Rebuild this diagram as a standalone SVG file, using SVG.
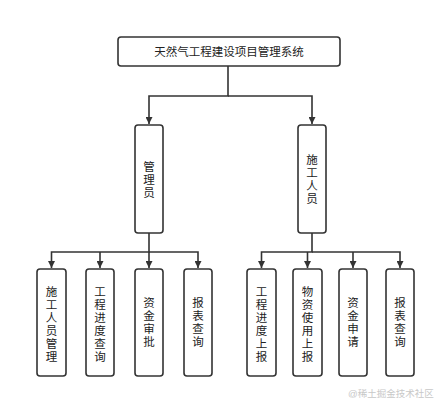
<svg xmlns="http://www.w3.org/2000/svg" width="438" height="402" viewBox="0 0 438 402">
<style>
.box{fill:#fff;stroke:#333;stroke-width:1.6}
.ln{fill:none;stroke:#333;stroke-width:1.6}
.t{font-family:"Liberation Sans","Noto Sans CJK SC",sans-serif;font-size:11.5px;fill:#222;text-anchor:middle;dominant-baseline:central}
.wm{font-family:"Liberation Sans","Noto Sans CJK SC",sans-serif;font-size:9.5px;fill:#c8c8c8}
</style>
<defs>
<marker id="ar" viewBox="0 0 10 10" refX="10" refY="5" markerWidth="7" markerHeight="7" markerUnits="userSpaceOnUse" orient="auto">
<path d="M0,0 L10,5 L0,10 Z" fill="#333"/>
</marker>
</defs>
<rect width="438" height="402" fill="#fff"/>
<g id="connectors">
<path class="ln" d="M228,66 V96 H149 V124" marker-end="url(#ar)"/>
<path class="ln" d="M228,96 H312 V124" marker-end="url(#ar)"/>
<path class="ln" d="M149,233 V252 H51.5 V268" marker-end="url(#ar)"/>
<path class="ln" d="M100,252 V268" marker-end="url(#ar)"/>
<path class="ln" d="M149,252 V268" marker-end="url(#ar)"/>
<path class="ln" d="M149,252 H198 V268" marker-end="url(#ar)"/>
<path class="ln" d="M312,233 V252 H261.5 V268" marker-end="url(#ar)"/>
<path class="ln" d="M307.5,252 V268" marker-end="url(#ar)"/>
<path class="ln" d="M312,252 H400 V268" marker-end="url(#ar)"/>
<path class="ln" d="M353,252 V268" marker-end="url(#ar)"/>
</g>
<g id="root">
<rect class="box" x="118" y="37" width="222" height="29" rx="3"/>
<text class="t" x="229" y="51.5">天然气工程建设项目管理系统</text>
</g>
<g id="manager">
<rect class="box" x="135" y="125" width="28" height="108" rx="3"/>
<text class="t"><tspan x="149" y="167">管</tspan><tspan x="149" y="180">理</tspan><tspan x="149" y="193">员</tspan></text>
</g>
<g id="worker">
<rect class="box" x="298" y="125" width="28" height="108" rx="3"/>
<text class="t"><tspan x="312" y="160">施</tspan><tspan x="312" y="173">工</tspan><tspan x="312" y="186">人</tspan><tspan x="312" y="199">员</tspan></text>
</g>
<g id="m1">
<rect class="box" x="37" y="269" width="29" height="107" rx="3"/>
<text class="t"><tspan x="51.5" y="292">施</tspan><tspan x="51.5" y="305">工</tspan><tspan x="51.5" y="318">人</tspan><tspan x="51.5" y="331">员</tspan><tspan x="51.5" y="344">管</tspan><tspan x="51.5" y="357">理</tspan></text>
</g>
<g id="m2">
<rect class="box" x="86" y="269" width="28" height="107" rx="3"/>
<text class="t"><tspan x="100" y="292">工</tspan><tspan x="100" y="305">程</tspan><tspan x="100" y="318">进</tspan><tspan x="100" y="331">度</tspan><tspan x="100" y="344">查</tspan><tspan x="100" y="357">询</tspan></text>
</g>
<g id="m3">
<rect class="box" x="135" y="269" width="28" height="107" rx="3"/>
<text class="t"><tspan x="149" y="303">资</tspan><tspan x="149" y="316">金</tspan><tspan x="149" y="329">审</tspan><tspan x="149" y="342">批</tspan></text>
</g>
<g id="m4">
<rect class="box" x="184" y="269" width="28" height="107" rx="3"/>
<text class="t"><tspan x="198" y="303">报</tspan><tspan x="198" y="316">表</tspan><tspan x="198" y="329">查</tspan><tspan x="198" y="342">询</tspan></text>
</g>
<g id="w1">
<rect class="box" x="247" y="269" width="29" height="107" rx="3"/>
<text class="t"><tspan x="261.5" y="292">工</tspan><tspan x="261.5" y="305">程</tspan><tspan x="261.5" y="318">进</tspan><tspan x="261.5" y="331">度</tspan><tspan x="261.5" y="344">上</tspan><tspan x="261.5" y="357">报</tspan></text>
</g>
<g id="w2">
<rect class="box" x="293" y="269" width="29" height="107" rx="3"/>
<text class="t"><tspan x="307.5" y="292">物</tspan><tspan x="307.5" y="305">资</tspan><tspan x="307.5" y="318">使</tspan><tspan x="307.5" y="331">用</tspan><tspan x="307.5" y="344">上</tspan><tspan x="307.5" y="357">报</tspan></text>
</g>
<g id="w3">
<rect class="box" x="339" y="269" width="28" height="107" rx="3"/>
<text class="t"><tspan x="353" y="303">资</tspan><tspan x="353" y="316">金</tspan><tspan x="353" y="329">申</tspan><tspan x="353" y="342">请</tspan></text>
</g>
<g id="w4">
<rect class="box" x="386" y="269" width="28" height="107" rx="3"/>
<text class="t"><tspan x="400" y="303">报</tspan><tspan x="400" y="316">表</tspan><tspan x="400" y="329">查</tspan><tspan x="400" y="342">询</tspan></text>
</g>
<text class="wm" x="348" y="397">@稀土掘金技术社区</text>
</svg>
